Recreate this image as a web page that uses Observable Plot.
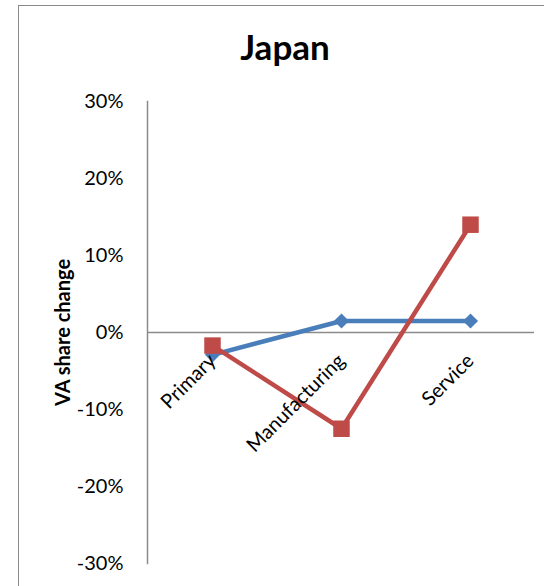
<!DOCTYPE html>
<html>
<head>
<meta charset="utf-8">
<script src="https://cdn.jsdelivr.net/npm/d3@7"></script>
<script src="https://cdn.jsdelivr.net/npm/@observablehq/plot@0.6"></script>
<style>
  html, body { margin: 0; padding: 0; background: #fff; overflow: hidden; }
  #wrap { position: relative; width: 544px; height: 586px; overflow: hidden; }
  #border { position: absolute; left: 18px; top: 5px; width: 700px; height: 800px;
            border: 1.5px solid #8a8a8a; box-sizing: border-box; pointer-events: none; }
  #chart { position: absolute; left: 0; top: 0; }
</style>
</head>
<body>
<div id="wrap"><div id="chart"></div><div id="border"></div></div>
<script>
const title = "Japan";
const yLabel = "VA share change";
const categories = ["Primary", "Manufacturing", "Service"];
const seriesBlue = [-0.029, 0.015, 0.015];
const seriesRed = [-0.017, -0.125, 0.140];
const yTicks = [-0.3, -0.2, -0.1, 0, 0.1, 0.2, 0.3];
const yTickLabels = ["-30%", "-20%", "-10%", "0%", "10%", "20%", "30%"];

const blue = categories.map((c, i) => ({cat: c, v: seriesBlue[i]}));
const red = categories.map((c, i) => ({cat: c, v: seriesRed[i]}));
const labelOf = new Map(yTicks.map((t, i) => [t, yTickLabels[i]]));

const font = "Lato, 'Open Sans', sans-serif";

const chart = Plot.plot({
  width: 544,
  height: 586,
  marginLeft: 147,
  marginRight: 10,
  marginTop: 101,
  marginBottom: 23,
  style: {fontFamily: font, background: "transparent", color: "#000"},
  x: {type: "point", domain: categories, padding: 0.5, axis: null},
  y: {domain: [-0.3, 0.3], ticks: yTicks},
  marks: [
    Plot.axisY({ticks: yTicks, tickSize: 0, tickPadding: 24, fontSize: 20, label: null,
      tickFormat: d => labelOf.get(Math.round(d * 10) / 10) ?? ""}),
    Plot.frame({anchor: "left", stroke: "#8a8a8a", strokeWidth: 1.5}),
    Plot.ruleY([0], {stroke: "#8a8a8a", strokeWidth: 1.5}),
    Plot.line(blue, {x: "cat", y: "v", stroke: "#4A7EBB", strokeWidth: 4.5}),
    Plot.dot(blue, {x: "cat", y: "v", symbol: "diamond2", r: 6.8, fill: "#4A7EBB", stroke: "none"}),
    Plot.line(red, {x: "cat", y: "v", stroke: "#BE4B48", strokeWidth: 4.5}),
    Plot.dot(red, {x: "cat", y: "v", symbol: "square", r: 9.3, fill: "#BE4B48", stroke: "none"}),
    Plot.text(categories, {x: d => d, y: () => 0, text: d => d, rotate: -45, textAnchor: "end",
      dx: 0, dy: 25, fontSize: 20, fill: "#000"}),
    Plot.text([yLabel], {frameAnchor: "left", rotate: -90, textAnchor: "middle", lineAnchor: "middle",
      dx: -84, fontSize: 20, fontWeight: "bold", fill: "#000"}),
    Plot.text([title], {frameAnchor: "top", textAnchor: "middle", lineAnchor: "middle",
      dx: -56, dy: -53, fontSize: 35, fontWeight: "bold", fill: "#000"})
  ]
});
document.getElementById("chart").appendChild(chart);
</script>
</body>
</html>
